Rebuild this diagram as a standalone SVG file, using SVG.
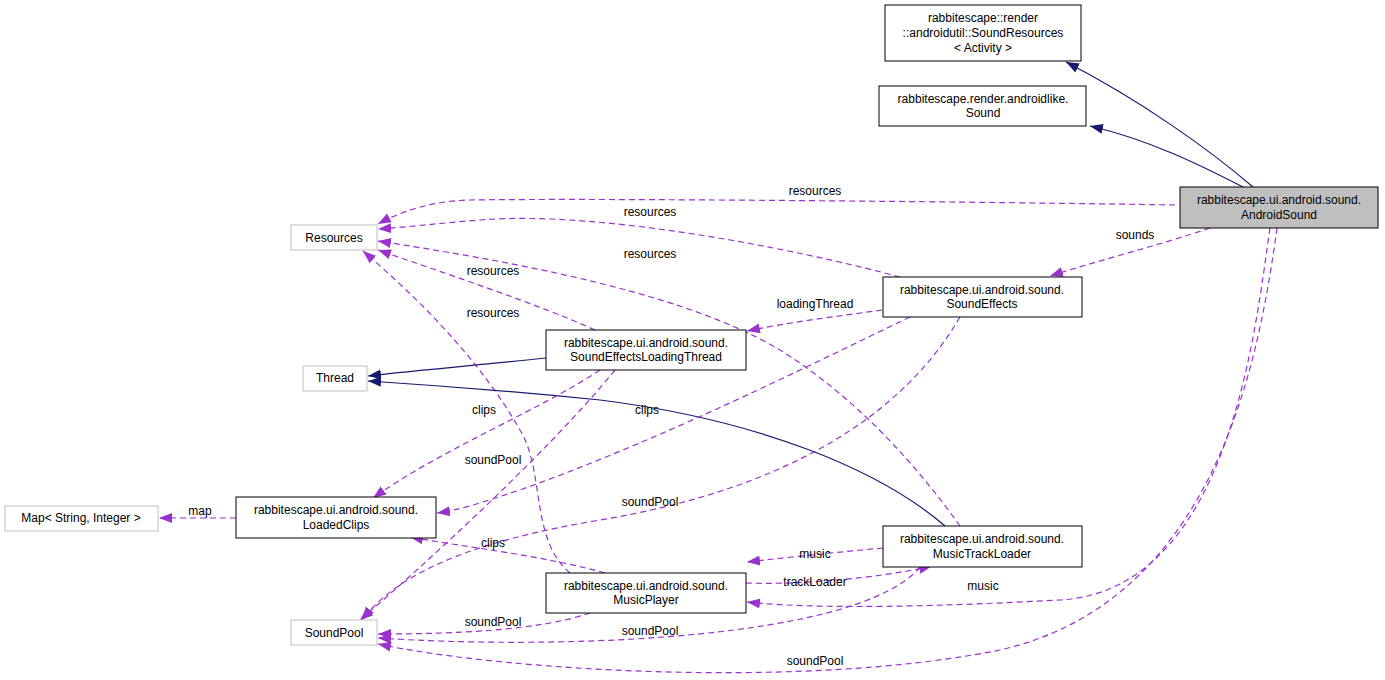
<svg xmlns="http://www.w3.org/2000/svg" width="1385" height="680" viewBox="0 0 1385 680">
<style>
text{font-family:"Liberation Sans",Arial,sans-serif;font-size:12px;fill:#000;text-anchor:middle}
.n rect{fill:#fff;stroke:#000;stroke-width:1}
.g rect{fill:#fff;stroke:#bfbfbf;stroke-width:1}
.cur rect{fill:#bfbfbf}
.inh{fill:none;stroke:#191970;stroke-width:1.2;marker-end:url(#ah)}
.use{fill:none;stroke:#9a32cd;stroke-width:1.2;stroke-dasharray:6,4;marker-end:url(#au)}
</style>
<defs>
<marker id="ah" markerWidth="14" markerHeight="12" refX="13" refY="6" orient="auto" markerUnits="userSpaceOnUse"><path d="M0,1 L13,6 L0,11 z" fill="#191970"/></marker>
<marker id="au" markerWidth="14" markerHeight="12" refX="13" refY="6" orient="auto" markerUnits="userSpaceOnUse"><path d="M0,1 L13,6 L0,11 z" fill="#9a32cd"/></marker>
</defs>
<rect width="1385" height="680" fill="#fff"/>
<g id="connectors">
<path class="inh" d="M1253,187 C1210,150 1140,100 1066,62"/>
<path class="inh" d="M1243,187 C1200,165 1150,140 1090,126"/>
<path class="use" d="M1175,205 C1000,202 600,198 470,200 C430,201 400,212 378,224"/>
<path class="use" d="M900,277 C800,250 600,210 480,220 C440,223 410,227 378,229"/>
<path class="use" d="M960,526 C920,470 860,400 780,350 C680,290 500,260 378,241"/>
<path class="use" d="M595,330 C540,305 450,275 378,250"/>
<path class="use" d="M570,573 C530,540 545,470 520,430 C480,360 420,300 363,251"/>
<path class="use" d="M1210,228 C1160,245 1100,260 1050,276"/>
<path class="use" d="M882,310 C840,316 790,322 747,331"/>
<path class="inh" d="M546,358 C490,364 420,370 368,376"/>
<path class="inh" d="M945,526 C880,470 760,420 600,400 C520,392 430,385 368,381"/>
<path class="use" d="M600,370 C540,410 440,450 373,498"/>
<path class="use" d="M910,317 C800,370 660,440 520,490 C480,503 460,510 437,513"/>
<path class="use" d="M615,370 C550,450 430,560 360,620"/>
<path class="use" d="M960,317 C900,420 780,490 600,520 C480,540 400,570 362,620"/>
<path class="use" d="M605,573 C540,555 470,548 410,537"/>
<path class="use" d="M883,548 C840,552 800,556 747,562"/>
<path class="use" d="M746,583 C800,585 880,578 932,566"/>
<path class="use" d="M1270,228 C1255,330 1230,590 1060,600 C950,606 820,610 747,602"/>
<path class="use" d="M590,613 C540,630 460,634 378,634"/>
<path class="use" d="M920,567 C860,640 560,650 378,638"/>
<path class="use" d="M1277,228 C1260,350 1220,600 1000,650 C800,690 500,670 378,644"/>
<path class="use" d="M236,518 C210,518 190,518 159,518"/>
</g>
<g id="labels">
<text x="815" y="195">resources</text>
<text x="650" y="216">resources</text>
<text x="650" y="258">resources</text>
<text x="493" y="275">resources</text>
<text x="493" y="317">resources</text>
<text x="1135" y="239">sounds</text>
<text x="815" y="308">loadingThread</text>
<text x="484" y="414">clips</text>
<text x="647" y="414">clips</text>
<text x="493" y="464">soundPool</text>
<text x="650" y="506">soundPool</text>
<text x="200" y="515">map</text>
<text x="493" y="547">clips</text>
<text x="815" y="558">music</text>
<text x="815" y="586">trackLoader</text>
<text x="983" y="590">music</text>
<text x="493" y="626">soundPool</text>
<text x="650" y="635">soundPool</text>
<text x="815" y="665">soundPool</text>
</g>
<g id="SoundResources" class="n"><rect x="885" y="5" width="196" height="56"/><text x="983" y="22">rabbitescape::render</text><text x="983" y="37">::androidutil::SoundResources</text><text x="983" y="52">&lt; Activity &gt;</text></g>
<g id="Sound" class="n"><rect x="879" y="86" width="207" height="40"/><text x="983" y="103">rabbitescape.render.androidlike.</text><text x="983" y="117">Sound</text></g>
<g id="AndroidSound" class="n cur"><rect x="1180" y="187" width="198" height="41"/><text x="1279" y="204">rabbitescape.ui.android.sound.</text><text x="1279" y="219">AndroidSound</text></g>
<g id="Resources" class="g"><rect x="291" y="225" width="86" height="25"/><text x="334" y="242">Resources</text></g>
<g id="SoundEffects" class="n"><rect x="883" y="277" width="199" height="40"/><text x="982" y="294">rabbitescape.ui.android.sound.</text><text x="982" y="308">SoundEffects</text></g>
<g id="SoundEffectsLoadingThread" class="n"><rect x="546" y="330" width="200" height="40"/><text x="646" y="347">rabbitescape.ui.android.sound.</text><text x="646" y="361">SoundEffectsLoadingThread</text></g>
<g id="Thread" class="g"><rect x="303" y="366" width="64" height="25"/><text x="335" y="382">Thread</text></g>
<g id="Map" class="g"><rect x="5" y="506" width="153" height="25"/><text x="81" y="522">Map&lt; String, Integer &gt;</text></g>
<g id="LoadedClips" class="n"><rect x="236" y="497" width="200" height="41"/><text x="336" y="514">rabbitescape.ui.android.sound.</text><text x="336" y="529">LoadedClips</text></g>
<g id="MusicTrackLoader" class="n"><rect x="883" y="526" width="199" height="41"/><text x="982" y="543">rabbitescape.ui.android.sound.</text><text x="982" y="558">MusicTrackLoader</text></g>
<g id="MusicPlayer" class="n"><rect x="546" y="573" width="200" height="40"/><text x="646" y="590">rabbitescape.ui.android.sound.</text><text x="646" y="604">MusicPlayer</text></g>
<g id="SoundPool" class="g"><rect x="291" y="620" width="86" height="25"/><text x="334" y="637">SoundPool</text></g>
</svg>
